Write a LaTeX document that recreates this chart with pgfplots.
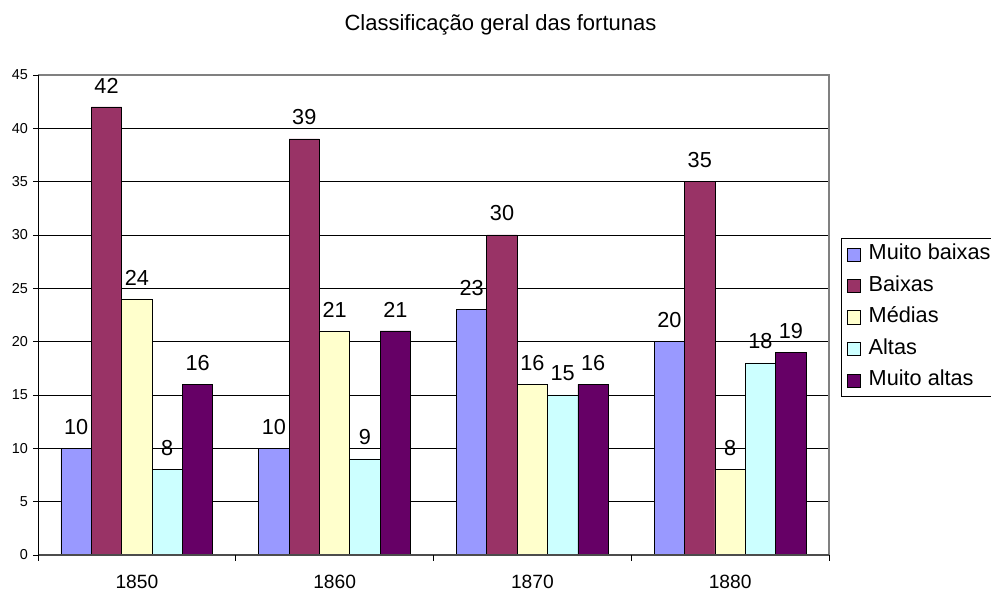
\documentclass[border=0pt]{standalone}
\usepackage{pgfplots}
\pgfplotsset{compat=1.18}
\usepackage{fontspec}
\setmainfont{Liberation Sans}
\definecolor{c1}{HTML}{9999FF}
\definecolor{c2}{HTML}{993366}
\definecolor{c3}{HTML}{FFFFCC}
\definecolor{c4}{HTML}{CCFFFF}
\definecolor{c5}{HTML}{660066}
\begin{document}
\begin{tikzpicture}[x=1pt,y=1pt]
\useasboundingbox (0,0) rectangle (991,593);
\node[anchor=base, inner sep=0pt, font=\fontsize{22}{26}\selectfont] at (500.5,562) {Classificação geral das fortunas};
\begin{axis}[at={(38pt,38pt)}, anchor=south west, scale only axis,
  width=791pt, height=480pt,
  xmin=-0.5, xmax=3.5, ymin=0, ymax=45,
  ybar=0pt, bar width=0.1535,
  clip=false,
  /pgf/number format/assume math mode=true,
  axis line style={draw=none},
  ytick={0,5,...,45},
  ymajorgrids, major grid style={black, line width=0.8pt},
  ytick pos=left, tick align=outside, major tick length=5pt,
  ytick style={black, line width=0.8pt},
  yticklabel style={font=\fontsize{14.4}{16}\selectfont, inner sep=0pt, xshift=-5pt},
  xtick={0,1,2,3}, xticklabels={1850,1860,1870,1880},
  xtick style={draw=none},
  xticklabel style={font=\fontsize{19.2}{22}\selectfont, anchor=center, yshift=-22pt},
  every axis plot/.append style={draw=black, line width=0.8pt},
  nodes near coords,
  every node near coord/.append style={font=\fontsize{21.7}{24}\selectfont, inner sep=0pt, anchor=south, yshift=13.5pt, draw=none},
  legend image code/.code={\draw[#1, draw=black, line width=0.8pt] (0pt,-6.5pt) rectangle (13pt,6.5pt);},
  legend cell align=left,
  legend style={at={(1.0158,0.6604)}, anchor=north west, draw=black, line width=0.8pt,
    font=\fontsize{21.7}{24}\selectfont, inner xsep=5pt, inner ysep=6pt,
    row sep=11.5pt,
    nodes={inner sep=0pt, text height=15.5pt, text depth=4.5pt},
    /tikz/every odd column/.append style={column sep=8pt}},
]
\addplot[fill=c1] coordinates {(0,10) (1,10) (2,23) (3,20)};
\addplot[fill=c2] coordinates {(0,42) (1,39) (2,30) (3,35)};
\addplot[fill=c3] coordinates {(0,24) (1,21) (2,16) (3,8)};
\addplot[fill=c4] coordinates {(0,8) (1,9) (2,15) (3,18)};
\addplot[fill=c5] coordinates {(0,16) (1,21) (2,16) (3,19)};
\legend{Muito baixas\hspace*{25pt},Baixas,Médias,Altas,Muito altas}
\draw[gray, line width=1.2pt] (rel axis cs:0,1) -- (rel axis cs:1,1) -- (rel axis cs:1,0);
\draw[black!70, line width=1.2pt] (rel axis cs:0,0) -- (rel axis cs:1,0);
\draw[black, line width=0.8pt] (rel axis cs:0,0) -- (rel axis cs:0,1);
\pgfplotsinvokeforeach{-0.5,0.5,1.5,2.5,3.5}{
  \draw[black, line width=0.8pt] (axis cs:#1,0) -- ([yshift=-6pt]axis cs:#1,0);
}
\end{axis}
\end{tikzpicture}
\end{document}
